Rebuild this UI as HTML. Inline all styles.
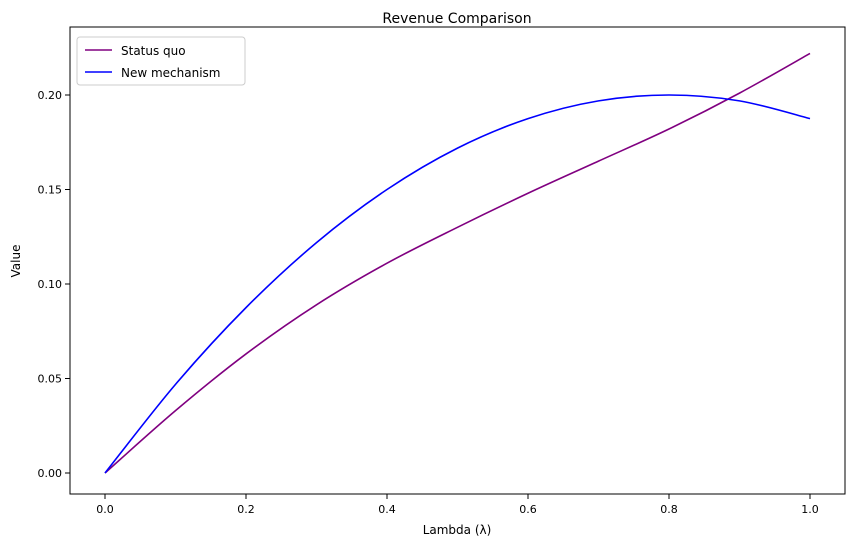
<!DOCTYPE html>
<html><head><meta charset="utf-8"><style>
body{margin:0;background:#fff;font-family:"Liberation Sans","DejaVu Sans",sans-serif}
svg text{font-family:"DejaVu Sans","Liberation Sans",sans-serif;fill:#000}
</style></head><body>
<svg id="chart" width="855" height="547">
<rect x="0" y="0" width="855" height="547" fill="#fff"/>
<text x="457" y="23" font-size="14" text-anchor="middle">Revenue Comparison</text>
<g id="axes"></g>
<text x="457" y="534" font-size="12" text-anchor="middle">Lambda (λ)</text>
<text x="20" y="261" font-size="12" text-anchor="middle" transform="rotate(-90 20 261)">Value</text>
<g>
<rect x="77" y="37" width="168" height="48" fill="#fff" stroke="#ccc" rx="3"/>
<g><line x1="85" y1="50" x2="112" y2="50" stroke="purple" stroke-width="1.6"/><text x="121" y="55" font-size="12">Status quo</text></g>
<g><line x1="85" y1="72" x2="112" y2="72" stroke="blue" stroke-width="1.6"/><text x="121" y="77" font-size="12">New mechanism</text></g>
</g>
</svg>
<script>
const lambdas=[0,0.1,0.2,0.3,0.4,0.5,0.6,0.7,0.8,0.9,1.0];
const statusQuo=[0,0.033,0.063,0.089,0.111,0.130,0.148,0.165,0.182,0.201,0.222];
const newMechanism=[0,0.0469,0.0875,0.1219,0.15,0.1719,0.1875,0.1969,0.2,0.1969,0.1875];
const xTicks=[0,0.2,0.4,0.6,0.8,1.0];
const xTickLabels=["0.0","0.2","0.4","0.6","0.8","1.0"];
const yTicks=[0,0.05,0.10,0.15,0.20];
const yTickLabels=["0.00","0.05","0.10","0.15","0.20"];
const L=70,R=845,T=27,B=494;
const xs=v=>105+v*705;
const ys=v=>473-v*1890;
const NS="http://www.w3.org/2000/svg";
const g=document.getElementById('axes');
function mk(t,a){const e=document.createElementNS(NS,t);for(const k in a)e.setAttribute(k,a[k]);g.appendChild(e);return e;}
xTicks.forEach((v,i)=>{
 const l=mk('line',{x1:xs(v),x2:xs(v),y1:B,y2:B+5,stroke:'#000'});
 
 
 const t=mk('text',{x:xs(v),y:B+19,'font-size':11,'text-anchor':'middle'});t.textContent=xTickLabels[i];
 
 
});
yTicks.forEach((v,i)=>{
 const l=mk('line',{x1:L-5,x2:L,y1:ys(v),y2:ys(v),stroke:'#000'});
 
 
 const t=mk('text',{x:L-8,y:ys(v)+4,'font-size':11,'text-anchor':'end'});t.textContent=yTickLabels[i];
 
 
});
function curve(vals){
 const p=lambdas.map((x,i)=>[xs(x),ys(vals[i])]);
 let d=`M${p[0][0]},${p[0][1]}`;
 for(let i=0;i<p.length-1;i++){
  const p0=p[Math.max(i-1,0)],p1=p[i],p2=p[i+1],p3=p[Math.min(i+2,p.length-1)];
  const c1=[p1[0]+(p2[0]-p0[0])/6,p1[1]+(p2[1]-p0[1])/6];
  const c2=[p2[0]-(p3[0]-p1[0])/6,p2[1]-(p3[1]-p1[1])/6];
  d+=` C${c1[0]},${c1[1]} ${c2[0]},${c2[1]} ${p2[0]},${p2[1]}`;
 }
 return d;
}
const s1=mk('path',{d:curve(statusQuo),fill:'none',stroke:'purple','stroke-width':1.6});


const s2=mk('path',{d:curve(newMechanism),fill:'none',stroke:'blue','stroke-width':1.6});


const fr=mk('rect',{x:L,y:T,width:R-L,height:B-T,fill:'none',stroke:'#000','stroke-width':1});


</script>
</body></html>
